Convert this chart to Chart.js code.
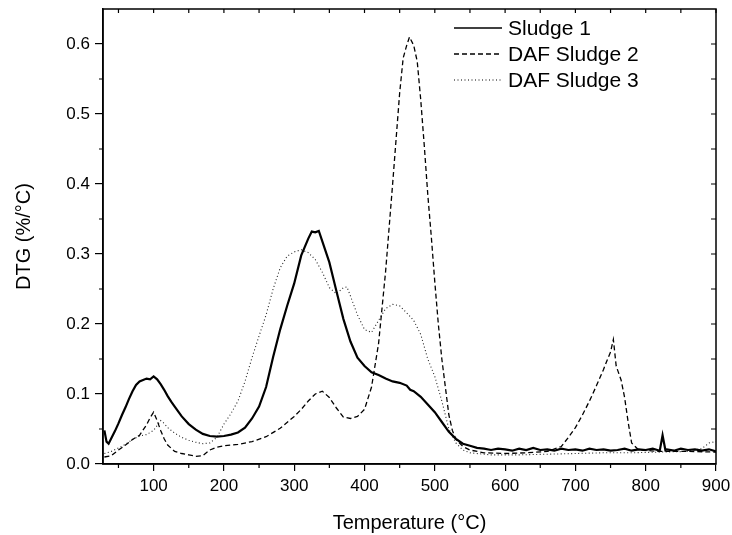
<!DOCTYPE html>
<html>
<head>
<meta charset="utf-8">
<script src="https://cdn.jsdelivr.net/npm/chart.js@4.4.0/dist/chart.umd.min.js"></script>
<style>
  html, body { margin: 0; padding: 0; background: #fff; }
</style>
</head>
<body>
<canvas id="chartDtg" width="732" height="535"></canvas>
<script>
// series names
const seriesNames = ['Sludge 1', 'DAF Sludge 2', 'DAF Sludge 3'];

// Sludge 1 (solid)
const sludge1Temp = [30, 33, 36, 40, 45, 50, 55, 60, 65, 70, 75, 80, 85, 90, 95, 100, 105, 110, 115, 120,
  125, 130, 140, 150, 160, 170, 180, 190, 200, 210, 220, 230, 240, 250, 260, 270, 280, 290, 300, 310,
  320, 325, 330, 335, 340, 350, 360, 370, 380, 390, 400, 410, 420, 430, 440, 450, 460, 465, 470, 480,
  490, 500, 510, 520, 530, 540, 550, 560, 570, 580, 590, 600, 610, 620, 630, 640, 650, 660, 670, 680,
  690, 700, 710, 720, 730, 740, 750, 760, 770, 780, 790, 800, 810, 820, 824, 828, 830, 840, 850, 860,
  870, 880, 890, 900];
const sludge1Dtg = [0.048, 0.032, 0.029, 0.037, 0.047, 0.058, 0.070, 0.081, 0.093, 0.104, 0.113, 0.118, 0.120, 0.122, 0.121, 0.125, 0.121, 0.114, 0.106, 0.097,
  0.089, 0.082, 0.068, 0.057, 0.049, 0.043, 0.040, 0.039, 0.040, 0.042, 0.045, 0.052, 0.065, 0.082, 0.110, 0.153, 0.192, 0.226, 0.258, 0.298,
  0.322, 0.332, 0.331, 0.333, 0.318, 0.288, 0.247, 0.207, 0.175, 0.152, 0.140, 0.131, 0.127, 0.122, 0.118, 0.116, 0.112, 0.106, 0.104, 0.096,
  0.085, 0.074, 0.060, 0.046, 0.036, 0.029, 0.026, 0.023, 0.022, 0.020, 0.022, 0.021, 0.019, 0.022, 0.020, 0.023, 0.020, 0.021, 0.019, 0.022,
  0.020, 0.021, 0.019, 0.022, 0.020, 0.021, 0.019, 0.020, 0.022, 0.019, 0.021, 0.020, 0.022, 0.019, 0.041, 0.020, 0.021, 0.019, 0.022, 0.020,
  0.021, 0.019, 0.021, 0.018];

// DAF Sludge 2 (dashed)
const sludge2Temp = [30, 40, 50, 60, 70, 80, 90, 95, 100, 105, 110, 115, 120, 130, 140, 150, 160, 170, 180, 190,
  200, 220, 240, 260, 280, 300, 310, 320, 330, 340, 350, 360, 370, 380, 390, 400, 410, 420, 430, 440,
  450, 455, 460, 464, 470, 475, 480, 485, 490, 495, 500, 505, 510, 515, 520, 525, 530, 540, 550, 570,
  600, 630, 660, 680, 690, 700, 710, 720, 730, 740, 745, 750, 754, 758, 765, 770, 775, 780, 790, 820,
  860, 900];
const sludge2Dtg = [0.010, 0.012, 0.020, 0.027, 0.035, 0.041, 0.056, 0.066, 0.074, 0.062, 0.048, 0.036, 0.027, 0.018, 0.015, 0.013, 0.011, 0.012, 0.020, 0.024,
  0.026, 0.028, 0.032, 0.039, 0.051, 0.068, 0.078, 0.090, 0.100, 0.104, 0.095, 0.080, 0.067, 0.065, 0.068, 0.078, 0.110, 0.172, 0.275, 0.400,
  0.530, 0.580, 0.598, 0.610, 0.598, 0.575, 0.520, 0.455, 0.385, 0.325, 0.260, 0.200, 0.150, 0.110, 0.070, 0.048, 0.035, 0.025, 0.020, 0.016,
  0.015, 0.016, 0.018, 0.025, 0.038, 0.052, 0.070, 0.090, 0.112, 0.135, 0.148, 0.160, 0.178, 0.140, 0.120, 0.095, 0.060, 0.030, 0.020, 0.018,
  0.018, 0.017];

// DAF Sludge 3 (dotted)
const sludge3Temp = [30, 40, 50, 60, 70, 80, 90, 100, 105, 110, 115, 120, 130, 140, 150, 160, 170, 180, 190, 200,
  210, 220, 230, 240, 250, 260, 270, 280, 290, 300, 310, 320, 330, 340, 350, 360, 370, 375, 380, 390,
  400, 410, 420, 430, 440, 450, 460, 470, 480, 490, 500, 510, 520, 530, 540, 550, 580, 620, 660, 700,
  740, 780, 820, 860, 880, 890, 900];
const sludge3Dtg = [0.015, 0.018, 0.023, 0.028, 0.035, 0.040, 0.042, 0.048, 0.055, 0.062, 0.058, 0.052, 0.044, 0.038, 0.034, 0.031, 0.029, 0.030, 0.038, 0.057,
  0.072, 0.090, 0.118, 0.152, 0.183, 0.213, 0.250, 0.280, 0.297, 0.303, 0.306, 0.302, 0.292, 0.274, 0.252, 0.243, 0.252, 0.253, 0.240, 0.213,
  0.192, 0.188, 0.205, 0.222, 0.228, 0.226, 0.216, 0.205, 0.185, 0.150, 0.125, 0.090, 0.050, 0.030, 0.020, 0.016, 0.013, 0.013, 0.014, 0.015,
  0.016, 0.016, 0.017, 0.018, 0.022, 0.030, 0.032];

// axis ticks
const xTickValues = [100, 200, 300, 400, 500, 600, 700, 800, 900];
const yTickValues = [0, 0.1, 0.2, 0.3, 0.4, 0.5, 0.6];

const toPoints = (temps, vals) => temps.map((t, i) => ({ x: t, y: vals[i] }));

/* marco, ticks menores y ticks internos arriba/derecha */
const frameTicks = {
  id: 'frameTicks',
  afterDraw(chart) {
    const { ctx, chartArea: a, scales: { x, y } } = chart;
    ctx.save();
    ctx.strokeStyle = '#000';
    ctx.lineWidth = 1.5;
    ctx.strokeRect(a.left, a.top, a.right - a.left, a.bottom - a.top);
    ctx.lineWidth = 1.2;
    ctx.beginPath();
    for (let i = 1; i <= 18; i++) {
      const px = x.getPixelForValue(i * 50);
      if (px < a.left) continue;
      if (i % 2) { ctx.moveTo(px, a.bottom); ctx.lineTo(px, a.bottom + 4); }
      ctx.moveTo(px, a.top); ctx.lineTo(px, a.top + 4);
    }
    for (let i = 1; i <= 12; i++) {
      const py = y.getPixelForValue(i * 0.05);
      if (i % 2) { ctx.moveTo(a.left, py); ctx.lineTo(a.left - 4, py); }
      ctx.moveTo(a.right, py); ctx.lineTo(a.right - 5, py);
    }
    ctx.stroke();
    ctx.restore();
  }
};

/* leyenda dentro del area */
const insideLegend = {
  id: 'insideLegend',
  afterDraw(chart) {
    const ctx = chart.ctx;
    ctx.save();
    ctx.font = '21px "Liberation Sans", Arial, sans-serif';
    ctx.textBaseline = 'middle';
    ctx.fillStyle = '#000';
    chart.data.datasets.forEach((ds, i) => {
      const yy = 28 + i * 26;
      ctx.strokeStyle = '#000';
      ctx.lineWidth = ds.borderWidth > 1.5 ? 1.5 : ds.borderWidth;
      ctx.setLineDash(ds.borderDash || []);
      ctx.beginPath();
      ctx.moveTo(454, yy);
      ctx.lineTo(502, yy);
      ctx.stroke();
      ctx.fillText(ds.label, 508, yy + 1);
    });
    ctx.restore();
  }
};

const cmc = document.getElementById('chartDtg');
const chartDtg = new Chart(cmc, {
  type: 'line',
  plugins: [frameTicks, insideLegend],
  data: {
    datasets: [
      {
        label: seriesNames[0],
        data: toPoints(sludge1Temp, sludge1Dtg),
        borderColor: '#000',
        borderWidth: 2.2,
        pointRadius: 0,
      },
      {
        label: seriesNames[1],
        data: toPoints(sludge2Temp, sludge2Dtg),
        borderColor: '#000',
        borderWidth: 1.3,
        borderDash: [5, 3],
        pointRadius: 0,
      },
      {
        label: seriesNames[2],
        data: toPoints(sludge3Temp, sludge3Dtg),
        borderColor: '#222',
        borderWidth: 1.1,
        borderDash: [1, 2.5],
        pointRadius: 0,
      },
    ],
  },
  options: {
    responsive: false,
    animation: false,
    layout: { padding: { left: 0, right: 16, top: 9, bottom: 0 } },
    plugins: {
      legend: { display: false },
      tooltip: { enabled: false },
    },
    scales: {
      x: {
        type: 'linear',
        min: 28,
        max: 900,
        afterBuildTicks: (scale) => { scale.ticks = xTickValues.map((v) => ({ value: v })); },
        afterFit: (scale) => {
          scale.height = 71;
          scale.paddingLeft = 0;
          scale.paddingRight = 0;
        },
        grid: { drawOnChartArea: false, tickLength: 7, color: '#000', lineWidth: 1.2 },
        border: { display: true, color: '#000', width: 1.5 },
        ticks: {
          padding: 5,
          maxRotation: 0,
          color: '#000',
          font: { family: '"Liberation Sans", Arial, sans-serif', size: 17 },
        },
        title: {
          display: true,
          text: 'Temperature (°C)',
          color: '#000',
          padding: 0,
          font: { family: '"Liberation Sans", Arial, sans-serif', size: 20 },
        },
      },
      y: {
        min: 0,
        max: 0.65,
        afterBuildTicks: (scale) => { scale.ticks = yTickValues.map((v) => ({ value: v })); },
        afterFit: (scale) => {
          scale.width = 103;
          scale.paddingTop = 0;
          scale.paddingBottom = 0;
        },
        grid: { drawOnChartArea: false, tickLength: 8, color: '#000', lineWidth: 1.2 },
        border: { display: true, color: '#000', width: 1.5 },
        ticks: {
          padding: 5,
          color: '#000',
          callback: (v) => Number(v).toFixed(1),
          font: { family: '"Liberation Sans", Arial, sans-serif', size: 17 },
        },
        title: {
          display: true,
          text: 'DTG (%/°C)',
          color: '#000',
          padding: { top: 12, bottom: 0 },
          font: { family: '"Liberation Sans", Arial, sans-serif', size: 20 },
        },
      },
    },
  },
});
</script>
</body>
</html>
